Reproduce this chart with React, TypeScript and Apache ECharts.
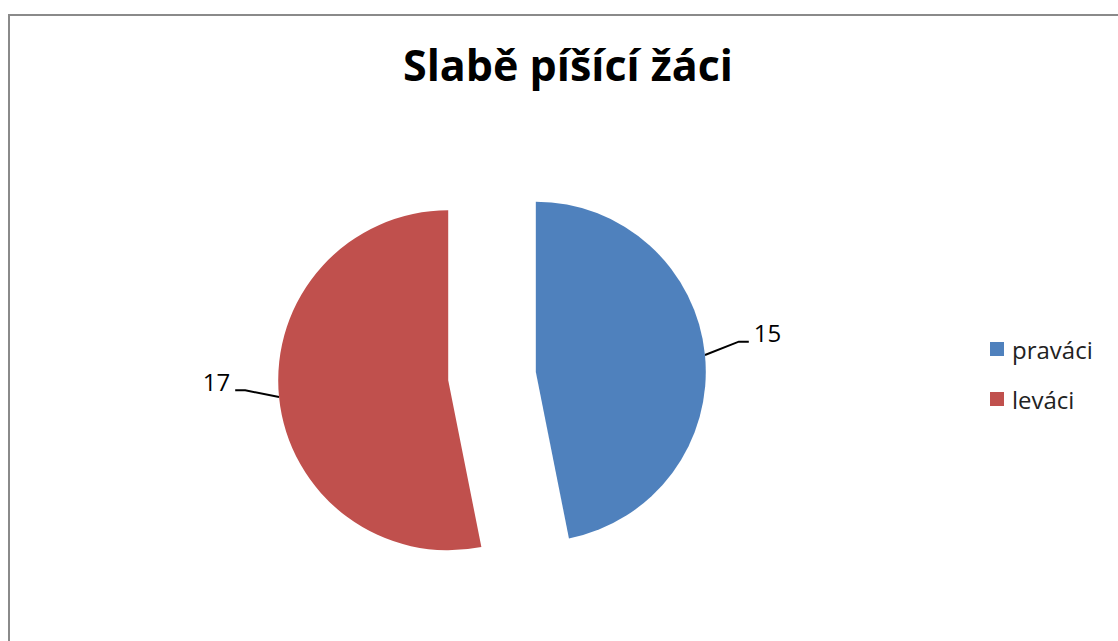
import React, { useEffect, useRef } from "react";
import * as echarts from "echarts";

const titleText = "Slabě píšící žáci";
const categories = ["praváci", "leváci"];
const values = [15, 17];
const colors = ["#4F81BD", "#C0504D"];

export default function App() {
  const ref = useRef<HTMLDivElement>(null);
  useEffect(() => {
    if (!ref.current) return;
    const chart = echarts.init(ref.current, undefined, { renderer: "svg" });
    const font = "'Open Sans', sans-serif";
    chart.setOption({
      animation: false,
      backgroundColor: "#ffffff",
      title: {
        text: titleText,
        left: 568,
        top: 43,
        padding: 0,
        textAlign: "center",
        textStyle: { fontFamily: font, fontSize: 43, fontWeight: "bold", color: "#000" },
      },
      legend: {
        orient: "vertical",
        left: 990,
        top: 337,
        padding: 0,
        itemWidth: 14,
        itemHeight: 14,
        itemGap: 26,
        icon: "rect",
        selectedMode: false,
        textStyle: { fontFamily: font, fontSize: 24, lineHeight: 24, color: "#222", padding: [0, 0, 0, 3] },
        data: categories,
      },
      graphic: [
        {
          type: "rect",
          shape: { x: 9, y: 15, width: 1200, height: 700 },
          style: { fill: "none", stroke: "#8a8a8a", lineWidth: 2 },
          silent: true,
        },
      ],
      series: [
        {
          type: "pie",
          center: [492, 376],
          radius: 170,
          startAngle: 90,
          clockwise: true,
          selectedMode: "multiple",
          selectedOffset: 44,
          avoidLabelOverlap: false,
          label: {
            show: true,
            formatter: "{c}",
            fontFamily: font,
            fontSize: 24,
            color: "#000",
            distanceToLabelLine: 5,
          },
          labelLine: {
            show: true,
            length: 34,
            length2: 10,
            lineStyle: { color: "#000", width: 2 },
          },
          labelLayout: (params: any) => {
            const pts = params.labelLinePoints;
            if (!pts) return {};
            return {
              dy: -19,
              labelLinePoints: [
                pts[0],
                [pts[1][0], pts[1][1] - 10],
                [pts[2][0], pts[2][1] - 10],
              ],
            };
          },
          emphasis: { disabled: true },
          data: categories.map((name, i) => ({
            name,
            value: values[i],
            selected: true,
            itemStyle: { color: colors[i] },
            select: { itemStyle: { color: colors[i], borderWidth: 0 } },
          })),
        },
      ],
    });
    return () => chart.dispose();
  }, []);
  return (
    <div
      ref={ref}
      style={{ position: "fixed", left: 0, top: 0, width: 1118, height: 641 }}
    />
  );
}
